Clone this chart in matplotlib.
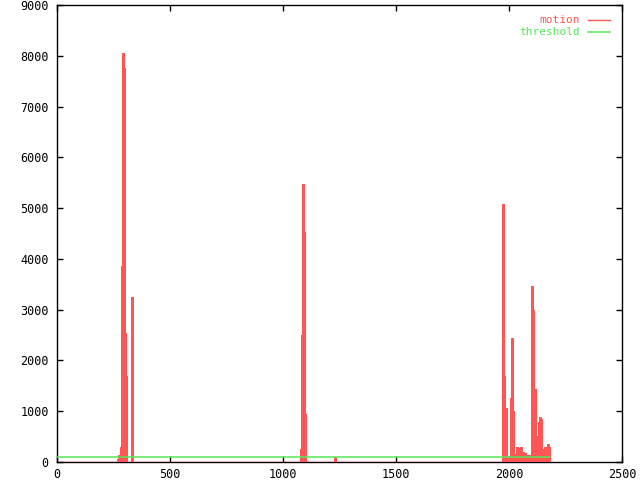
import numpy as np
import matplotlib
matplotlib.use('Agg')
import matplotlib.pyplot as plt

# motion spikes: frame index -> motion value (all other frames are zero)
frames = [270, 274, 285, 289, 293, 298, 302, 307, 333,
          1081, 1085, 1090, 1094, 1099, 1103, 1230,
          1975, 1979, 1984, 1988, 1993, 2001, 2010, 2015, 2019, 2023,
          2028, 2032, 2037, 2041, 2046, 2050, 2055, 2059, 2063, 2068,
          2072, 2077, 2086, 2090, 2103, 2108, 2112, 2116, 2121, 2125,
          2130, 2134, 2139, 2143, 2152, 2156, 2161, 2165, 2170, 2174, 2178]
motion = [52, 138, 289, 3866, 8048, 7766, 2534, 1694, 3255,
          263, 2500, 5475, 4529, 945, 20, 90,
          5080, 1694, 827, 1063, 72, 72, 1260, 2450, 1010, 157,
          72, 157, 295, 217, 270, 230, 295, 203, 203, 170,
          170, 105, 138, 138, 3466, 2993, 519, 1437, 519, 295,
          433, 788, 880, 847, 236, 256, 302, 236, 289, 354, 302]
first_frame = 0
last_frame = 2181
threshold = 100

xticks = [0, 500, 1000, 1500, 2000, 2500]
yticks = list(range(0, 9001, 1000))

red = '#ff5555'
green = '#55e855'

plt.rcParams['font.family'] = 'DejaVu Sans Mono'
plt.rcParams['font.size'] = 8.5

fig = plt.figure(figsize=(6.4, 4.8), dpi=100)
ax = fig.add_axes([57 / 640, 18 / 480, 565 / 640, 457 / 480])

# impulses
ax.vlines(frames, 0, motion, color=red, linewidth=0.9, antialiased=False, zorder=3)
ax.hlines(0, first_frame, last_frame, color=red, linewidth=1.0, zorder=3)
ax.hlines(threshold, first_frame, last_frame, color=green, linewidth=1.1, zorder=4)

ax.set_xlim(0, 2500)
ax.set_ylim(0, 9000)
ax.set_xticks(xticks)
ax.set_yticks(yticks)
ax.tick_params(direction='in', length=4, width=1, top=True, right=True)
ax.tick_params(axis='x', pad=4)
ax.tick_params(axis='y', pad=6)
for s in ax.spines.values():
    s.set_linewidth(1.0)

# gnuplot style key, text right aligned with sample line after it
key_x, line_x0, line_x1 = 0.926, 0.940, 0.979
ax.text(key_x, 0.968, 'motion', color=red, ha='right', va='center',
        fontsize=8, transform=ax.transAxes)
ax.plot([line_x0, line_x1], [0.968, 0.968], color=red, lw=1.0, transform=ax.transAxes)
ax.text(key_x, 0.941, 'threshold', color=green, ha='right', va='center',
        fontsize=8, transform=ax.transAxes)
ax.plot([line_x0, line_x1], [0.941, 0.941], color=green, lw=1.1, transform=ax.transAxes)

fig.savefig('out.png', dpi=100)
